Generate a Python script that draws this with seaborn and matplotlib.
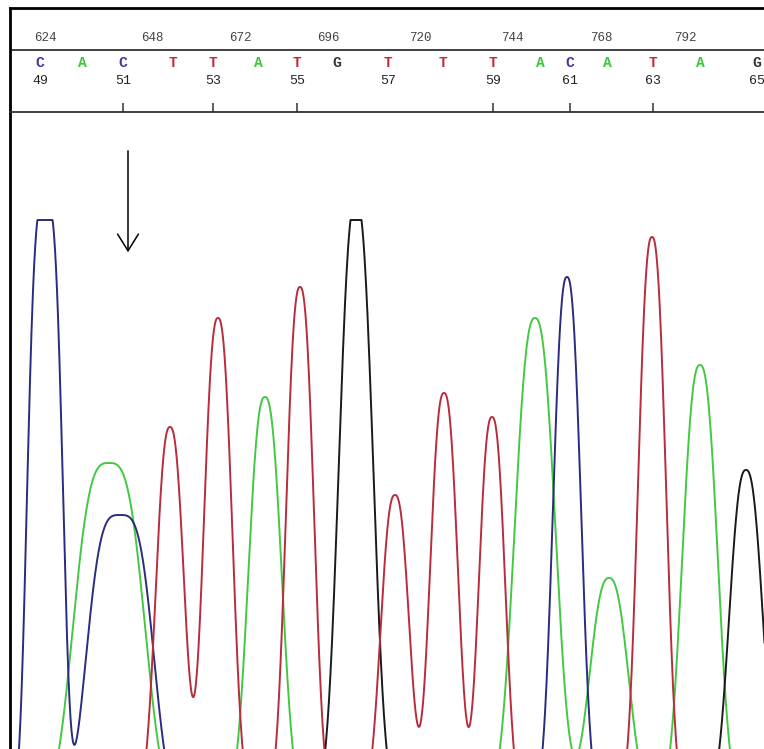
import numpy as np
import pandas as pd
import matplotlib
matplotlib.use('Agg')
import matplotlib.pyplot as plt
import seaborn as sns

# Base calls in the header strip (base 49 .. 65)
bases = list('CACTTATGTTTACATAG')
base_pos = [40, 82, 123, 173, 213, 258, 297, 337, 388, 443, 493, 540, 570, 607, 653, 700, 757]
first_base = 49
ticked_bases = [51, 53, 55, 59, 61, 63]

# Scan numbers on the top ruler
scan_labels = ['624', '648', '672', '696', '720', '744', '768', '792']
scan_pos = [45, 152, 240, 328, 420, 512, 601, 685]

# Peaks for each dye channel: centre, height, width, shape (flatness)
a_pos = [109, 265, 535, 609, 700]
a_height = [337, 403, 482, 222, 435]
a_width = [33, 15.8, 19.3, 18.4, 16.7]
a_shape = [3.2, 2.5, 2.5, 2.5, 2.5]

c_pos = [45, 120, 567]
c_height = [600, 285, 523]
c_width = [16.5, 31, 13.2]
c_shape = [3.5, 3.5, 2.5]

g_pos = [356, 746]
g_height = [600, 330]
g_width = [16.2, 15.8]
g_shape = [2.5, 2.5]

t_pos = [170, 218, 300, 395, 444, 492, 652]
t_height = [373, 482, 513, 305, 407, 383, 563]
t_width = [13.5, 13.5, 13.2, 13.6, 13.2, 12.5, 13.2]
t_shape = [2.5, 2.5, 2.5, 2.5, 2.5, 2.5, 2.5]

signal_max = 580   # the viewer clips the tallest peaks

base_colors = {'A': '#3cc83c', 'C': '#3a3a9a', 'G': '#333333', 'T': '#c8283c'}
trace_colors = {'A': '#44c844', 'C': '#2b2b80', 'G': '#1a1a1a', 'T': '#b82c3c'}


def channel(x, pos, height, width, shape):
    y = np.zeros_like(x)
    for p, h, w, k in zip(pos, height, width, shape):
        y += h * np.exp(-0.5 * np.abs((x - p) / w) ** k)
    return np.minimum(y, signal_max)


peaks = {
    'A': (a_pos, a_height, a_width, a_shape),
    'C': (c_pos, c_height, c_width, c_shape),
    'G': (g_pos, g_height, g_width, g_shape),
    'T': (t_pos, t_height, t_width, t_shape),
}
scan = np.arange(10, 766, 0.5)
frames = []
for b, params in peaks.items():
    frames.append(pd.DataFrame({'scan': scan, 'signal': channel(scan, *params), 'base': b}))
df = pd.concat(frames, ignore_index=True)

sns.set_style('white')
W, H = 764, 749
fig = plt.figure(figsize=(W / 100, H / 100), dpi=100)
ax = fig.add_axes([10 / W, 0, (W - 10) / W, 637 / H])
ax_h = fig.add_axes([10 / W, 637 / H, (W - 10) / W, 104 / H])

# Traces
sns.lineplot(data=df, x='scan', y='signal', hue='base', palette=trace_colors,
             estimator=None, sort=False, legend=False, linewidth=1.4, ax=ax)
ax.set_xlim(10, 764)
ax.set_ylim(51, 688)
ax.set_xticks([])
ax.set_yticks([])
ax.set_xlabel('')
ax.set_ylabel('')
for s in ['top', 'right', 'bottom']:
    ax.spines[s].set_visible(False)
ax.spines['left'].set_color('black')
ax.spines['left'].set_linewidth(2)

# Arrow pointing at base 51
ax.annotate('', xy=(128, 545), xytext=(128, 652),
            arrowprops=dict(arrowstyle='->,head_length=1.2,head_width=0.75',
                            color='black', lw=1.1))

# Header strip
ax_h.set_xlim(10, 764)
ax_h.set_ylim(0, 1)
ax_h.set_xticks([])
ax_h.set_yticks([])
ax_h.spines['right'].set_visible(False)
for s in ['left', 'top']:
    ax_h.spines[s].set_color('black')
    ax_h.spines[s].set_linewidth(2)
ax_h.spines['bottom'].set_color('#333333')
ax_h.spines['bottom'].set_linewidth(1.3)
ax_h.axhline(0.596, color='#333333', lw=1.3)

for lab, x in zip(scan_labels, scan_pos):
    ax_h.text(x, 0.71, lab, ha='center', va='center', fontsize=9,
              family='Liberation Mono', color='#444444')

for i, (b, x) in enumerate(zip(bases, base_pos)):
    ax_h.text(x, 0.47, b, ha='center', va='center', fontsize=10.5, fontweight='bold',
              family='Liberation Mono', color=base_colors[b])
    num = first_base + i
    if i % 2 == 0:
        ax_h.text(x, 0.30, str(num), ha='center', va='center', fontsize=9.5,
                  family='Liberation Mono', color='#222222')
    if num in ticked_bases:
        ax_h.vlines(x, 0, 0.09, color='#333333', lw=1.1)

fig.savefig('out.png', dpi=100)
